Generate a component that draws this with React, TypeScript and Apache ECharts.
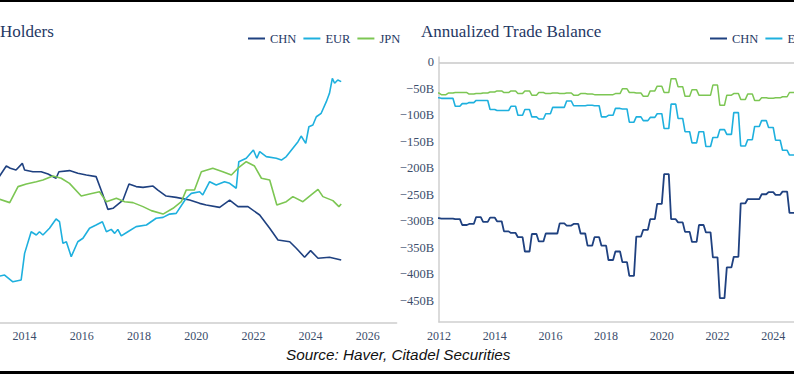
import { useEffect, useRef } from 'react';
import * as echarts from 'echarts';

// ---------- Left panel: holders ($bn), [year, value] ----------
const chnHoldings: [number, number][] = [
  [2013.1, 1200], [2013.36, 1261], [2013.5, 1249], [2013.7, 1239], [2013.92, 1276], [2014.0, 1239],
  [2014.29, 1230], [2014.58, 1230], [2014.82, 1217], [2015.1, 1194], [2015.2, 1230], [2015.57, 1236],
  [2015.86, 1221], [2016.16, 1212], [2016.5, 1203], [2016.74, 1102], [2016.91, 1023], [2017.09, 1029],
  [2017.44, 1074], [2017.65, 1162], [2017.9, 1148], [2018.14, 1144], [2018.49, 1151], [2018.66, 1129],
  [2018.95, 1096], [2019.3, 1089], [2019.77, 1074], [2020.12, 1056], [2020.35, 1047], [2020.82, 1034],
  [2021.17, 1074], [2021.46, 1038], [2021.81, 1038], [2022.22, 992], [2022.57, 919], [2022.86, 855],
  [2023.27, 845], [2023.5, 809], [2023.79, 760], [2024.0, 796], [2024.26, 754], [2024.66, 760],
  [2025.07, 745],
];
const eurHoldings: [number, number][] = [
  [2013.1, 655], [2013.3, 662], [2013.59, 625], [2013.88, 635], [2014.0, 781], [2014.23, 900],
  [2014.41, 882], [2014.52, 900], [2014.64, 882], [2014.87, 919], [2015.1, 970], [2015.22, 955],
  [2015.34, 836], [2015.46, 845], [2015.63, 763], [2015.86, 845], [2016.04, 864], [2016.27, 919],
  [2016.5, 937], [2016.72, 955], [2016.86, 900], [2017.03, 913], [2017.15, 891], [2017.26, 913],
  [2017.38, 877], [2017.61, 900], [2017.9, 928], [2018.26, 937], [2018.6, 974], [2018.84, 979],
  [2019.07, 997], [2019.3, 1001], [2019.65, 1084], [2019.83, 1111], [2020.12, 1120], [2020.23, 1102],
  [2020.47, 1175], [2020.7, 1157], [2020.99, 1175], [2021.17, 1166], [2021.4, 1139], [2021.49, 1285],
  [2021.75, 1304], [2022.0, 1349], [2022.12, 1304], [2022.22, 1340], [2022.45, 1313], [2022.8, 1304],
  [2022.98, 1294], [2023.15, 1313], [2023.38, 1359], [2023.56, 1395], [2023.67, 1426], [2023.83, 1386],
  [2023.94, 1477], [2024.08, 1487], [2024.2, 1532], [2024.37, 1551], [2024.55, 1615], [2024.66, 1661],
  [2024.76, 1743], [2024.84, 1716], [2024.95, 1734], [2025.07, 1725],
];
const jpnHoldings: [number, number][] = [
  [2013.1, 1080], [2013.48, 1060], [2013.77, 1148], [2014.06, 1162], [2014.41, 1175], [2014.64, 1184],
  [2014.99, 1206], [2015.28, 1194], [2015.57, 1166], [2015.98, 1096], [2016.27, 1107], [2016.62, 1120],
  [2016.86, 1065], [2017.21, 1084], [2017.5, 1065], [2017.79, 1060], [2018.14, 1038], [2018.43, 1016],
  [2018.84, 997], [2019.19, 1029], [2019.48, 1065], [2019.65, 1129], [2019.94, 1129], [2020.18, 1230],
  [2020.58, 1249], [2020.93, 1230], [2021.23, 1212], [2021.46, 1249], [2021.75, 1285], [2022.04, 1261],
  [2022.28, 1194], [2022.57, 1184], [2022.82, 1047], [2023.15, 1065], [2023.38, 1093], [2023.73, 1065],
  [2024.02, 1102], [2024.26, 1133], [2024.43, 1093], [2024.78, 1071], [2024.99, 1038], [2025.07, 1052],
];

// ---------- Right panel: annualized trade balance ($bn), quarterly from 2011Q4 ----------
const tradeStartYear = 2011.75;
const tradeChn = [
  -294, -295, -295, -296, -307, -305, -292, -301, -293, -300, -319, -322, -330, -357, -324, -338,
  -323, -323, -304, -308, -305, -323, -346, -330, -346, -373, -357, -377, -403, -329, -316, -296,
  -267, -211, -296, -302, -320, -339, -307, -321, -368, -445, -387, -367, -266, -258, -258, -249,
  -245, -250, -244, -284, -284,
];
const tradeEur = [
  -67, -68, -68, -83, -78, -76, -72, -72, -89, -91, -91, -83, -100, -89, -103, -107,
  -97, -85, -85, -73, -82, -82, -81, -82, -103, -100, -87, -88, -113, -103, -110, -104,
  -97, -125, -79, -106, -131, -152, -131, -159, -142, -127, -136, -95, -158, -146, -121, -110,
  -123, -147, -166, -175, -175,
];
const tradeJpn = [
  -58, -61, -58, -57, -57, -60, -59, -58, -56, -54, -57, -54, -59, -54, -62, -57,
  -59, -58, -59, -58, -62, -59, -60, -61, -61, -61, -59, -50, -57, -58, -64, -54,
  -45, -57, -31, -46, -64, -52, -62, -62, -43, -81, -62, -59, -70, -60, -72, -67,
  -68, -67, -65, -57, -57,
];

const seriesNames = ['CHN', 'EUR', 'JPN'];
const rightLegendNames = ['CHN', 'EUR'];
const leftTitle = 'Holders';
const rightTitle = 'Annualized Trade Balance';
const sourceText = 'Source: Haver, Citadel Securities';

const COL_CHN = '#1f4180';
const COL_EUR = '#1eb0de';
const COL_JPN = '#7cc653';
const SERIF = '"Liberation Serif", "Times New Roman", serif';

// quarterly values shown as a monthly table: each quarter's value held for three months
function quarterlyTable(values: number[]): [number, number][] {
  const out: [number, number][] = [];
  values.forEach((v, k) => {
    for (let j = 1; j <= 3; j++) out.push([tradeStartYear + (3 * k + j) / 12, v]);
  });
  return out;
}

export default function App() {
  const ref = useRef<HTMLDivElement>(null);
  useEffect(() => {
    if (!ref.current) return;
    const chart = echarts.init(ref.current, undefined, { renderer: 'svg' });
    const axisLabel = { fontFamily: SERIF, fontSize: 12, color: '#3b4d6b' };
    const legendCommon = {
      icon: 'rect',
      itemWidth: 17,
      itemHeight: 2,
      itemGap: 7,
      orient: 'horizontal',
      width: 300,
      textStyle: { fontFamily: SERIF, fontSize: 12.5, color: '#1f3864' },
    };
    chart.setOption({
      animation: false,
      backgroundColor: '#ffffff',
      legend: [
        { ...legendCommon, data: seriesNames, left: 243, top: 27 },
        { ...legendCommon, data: rightLegendNames, left: 705, top: 27 },
      ],
      grid: [
        { left: -32.6, top: 68, width: 429, height: 254.7, containLabel: false, outerBoundsMode: 'none' },
        { left: 439, top: 57, width: 376, height: 265, containLabel: false, outerBoundsMode: 'none' },
      ],
      xAxis: [
        {
          type: 'value', gridIndex: 0, min: 2012, max: 2027, interval: 2,
          axisLine: { show: true, onZero: false, lineStyle: { color: '#d9d9d9', width: 2 } },
          axisTick: { show: false }, splitLine: { show: false },
          axisLabel: { ...axisLabel, margin: 7, showMinLabel: false, showMaxLabel: false, hideOverlap: false, formatter: (v: number) => String(v) },
        },
        {
          type: 'value', gridIndex: 1, min: 2012, max: 2025.5, interval: 2,
          axisLine: { show: true, onZero: false, lineStyle: { color: '#cfcfcf', width: 1.5 } },
          axisTick: { show: false }, splitLine: { show: false },
          axisLabel: { ...axisLabel, margin: 8, showMaxLabel: false, hideOverlap: false, formatter: (v: number) => String(v) },
        },
      ],
      yAxis: [
        { type: 'value', gridIndex: 0, min: 400, max: 1800, show: false, splitLine: { show: false } },
        {
          type: 'value', gridIndex: 1, min: -490, max: 10, splitNumber: 10,
          axisLine: { show: true, lineStyle: { color: '#cfcfcf', width: 1.5 } },
          axisTick: { show: false }, splitLine: { show: false },
          axisLabel: {
            ...axisLabel, fontSize: 12.5, margin: 5, showMinLabel: false, showMaxLabel: false,
            formatter: (v: number) => (v === 0 ? '0' : '\u2212' + Math.abs(v) + 'B'),
          },
        },
      ],
      series: [
        { name: 'CHN', type: 'line', xAxisIndex: 0, yAxisIndex: 0, data: chnHoldings, showSymbol: false, symbol: 'none', lineStyle: { color: COL_CHN, width: 1.6 }, itemStyle: { color: COL_CHN } },
        { name: 'EUR', type: 'line', xAxisIndex: 0, yAxisIndex: 0, data: eurHoldings, showSymbol: false, symbol: 'none', lineStyle: { color: COL_EUR, width: 1.6 }, itemStyle: { color: COL_EUR } },
        { name: 'JPN', type: 'line', xAxisIndex: 0, yAxisIndex: 0, data: jpnHoldings, showSymbol: false, symbol: 'none', lineStyle: { color: COL_JPN, width: 1.6 }, itemStyle: { color: COL_JPN } },
        {
          name: 'CHN', type: 'line', xAxisIndex: 1, yAxisIndex: 1, data: quarterlyTable(tradeChn), showSymbol: false, symbol: 'none',
          lineStyle: { color: COL_CHN, width: 1.8 }, itemStyle: { color: COL_CHN },
          markLine: { silent: true, symbol: 'none', label: { show: false }, lineStyle: { color: '#c8c8c8', width: 1.5, type: 'solid' }, data: [{ yAxis: 0 }] },
        },
        { name: 'EUR', type: 'line', xAxisIndex: 1, yAxisIndex: 1, data: quarterlyTable(tradeEur), showSymbol: false, symbol: 'none', lineStyle: { color: COL_EUR, width: 1.6 }, itemStyle: { color: COL_EUR } },
        { name: 'JPN', type: 'line', xAxisIndex: 1, yAxisIndex: 1, data: quarterlyTable(tradeJpn), showSymbol: false, symbol: 'none', lineStyle: { color: COL_JPN, width: 1.5 }, itemStyle: { color: COL_JPN } },
      ],
      graphic: [
        { type: 'rect', shape: { x: 0, y: 0, width: 794, height: 2 }, style: { fill: '#000' }, silent: true },
        { type: 'rect', shape: { x: 0, y: 371, width: 794, height: 3 }, style: { fill: '#000' }, silent: true },
        { type: 'text', x: 0, y: 31, silent: true, style: { text: leftTitle, font: `17px ${SERIF}`, fill: '#1f3864', textAlign: 'left', textVerticalAlign: 'middle' } },
        { type: 'text', x: 421, y: 31, silent: true, style: { text: rightTitle, font: `17px ${SERIF}`, fill: '#1f3864', textAlign: 'left', textVerticalAlign: 'middle' } },
        { type: 'text', x: 286, y: 354, silent: true, style: { text: sourceText, font: `italic 15.3px "Liberation Sans", Arial, sans-serif`, fill: '#111', textAlign: 'left', textVerticalAlign: 'middle' } },
      ],
    });
    return () => chart.dispose();
  }, []);
  return (
    <div style={{ position: 'absolute', left: 0, top: 0, width: 794, height: 374, background: '#fff' }}>
      <div ref={ref} style={{ width: 794, height: 374 }} />
    </div>
  );
}
